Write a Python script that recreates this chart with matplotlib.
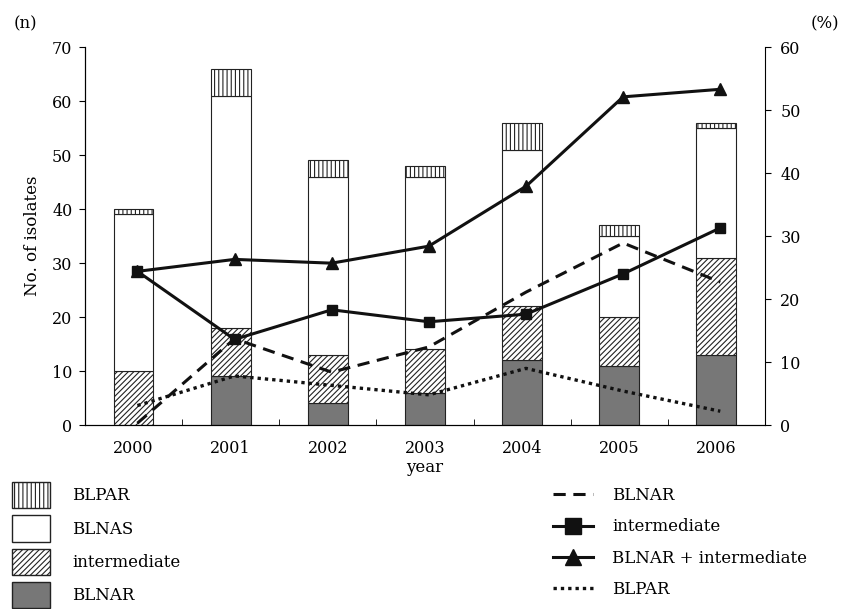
import numpy as np
from matplotlib import pyplot as plt
from matplotlib.patches import Patch
from matplotlib.lines import Line2D

plt.rcParams['font.family'] = ['DejaVu Serif']
plt.rcParams['hatch.linewidth'] = 0.8

# numero de isolados (barras empilhadas)
years = ['2000', '2001', '2002', '2003', '2004', '2005', '2006']
blnar = [0, 9, 4, 6, 12, 11, 13]
intermediate = [10, 9, 9, 8, 10, 9, 18]
blnas = [29, 43, 33, 32, 29, 15, 24]
blpar = [1, 5, 3, 2, 5, 2, 1]

# porcentagens (eixo da direita)
pct_blnar = [0.3, 13.7, 8.4, 12.4, 21.1, 28.9, 22.7]
pct_inter = [24.4, 13.6, 18.3, 16.4, 17.6, 24.0, 31.3]
pct_both = [24.4, 26.3, 25.7, 28.4, 37.9, 52.1, 53.3]
pct_blpar = [3.1, 7.8, 6.3, 4.8, 9.0, 5.4, 2.2]

x = np.arange(len(years))
w = 0.41

fig = plt.figure(figsize=(8.41, 6.09), dpi=100)
ax = fig.add_axes([0.101, 0.302, 0.8086, 0.6207])

b1 = np.array(blnar)
b2 = b1 + np.array(intermediate)
b3 = b2 + np.array(blnas)
ax.bar(x, blnar, w, color='#777777', edgecolor='#222222', lw=0.8)
ax.bar(x, intermediate, w, bottom=b1, color='white', edgecolor='#222222', hatch='//////', lw=0.8)
ax.bar(x, blnas, w, bottom=b2, color='white', edgecolor='#222222', lw=0.8)
ax.bar(x, blpar, w, bottom=b3, color='white', edgecolor='#222222', hatch='||||', lw=0.8)

ax.set_xlim(-0.5, 6.5)
ax.set_ylim(0, 70)
ax.set_yticks(range(0, 71, 10))
ax.set_xticks(x)
ax.set_xticklabels(years)
ax.set_xticks(np.arange(0.5, 6.5, 1), minor=True)
ax.tick_params(axis='x', which='major', length=0, pad=11, labelsize=11.5)
ax.tick_params(axis='x', which='minor', length=4, direction='in')
ax.tick_params(axis='y', length=4, direction='out', labelsize=11.5, pad=5)
ax.spines['top'].set_visible(False)
ax.spines['right'].set_visible(False)
ax.set_ylabel('No. of isolates', fontsize=12, labelpad=8)
ax.set_xlabel('year', fontsize=12, labelpad=1)

ax2 = ax.twinx()
ax2.set_ylim(0, 60)
ax2.set_yticks(range(0, 61, 10))
ax2.tick_params(axis='y', length=4, direction='out', labelsize=11.5, pad=7)
ax2.spines['top'].set_visible(False)

xl = x + 0.04
ax2.plot(xl, pct_blnar, color='#111111', lw=2.2, ls=(0, (4, 2.5)))
ax2.plot(xl, pct_inter, color='#111111', lw=2.2, marker='s', ms=7)
ax2.plot(xl, pct_both, color='#111111', lw=2.2, marker='^', ms=8)
ax2.plot(xl, pct_blpar, color='#111111', lw=2.4, ls=(0, (1, 1.2)))

fig.text(0.016, 0.96, '(n)', fontsize=12, va='center')
fig.text(0.964, 0.96, '(%)', fontsize=12, va='center')

h1 = [Patch(facecolor='white', edgecolor='#222222', hatch='||||'),
      Patch(facecolor='white', edgecolor='#222222'),
      Patch(facecolor='white', edgecolor='#222222', hatch='//////'),
      Patch(facecolor='#777777', edgecolor='#222222')]
fig.legend(h1, ['BLPAR', 'BLNAS', 'intermediate', 'BLNAR'], loc='upper left',
           bbox_to_anchor=(0.0143, 0.2085), frameon=False, fontsize=12,
           borderpad=0, borderaxespad=0,
           handlelength=2.3, handleheight=2.05, labelspacing=0.42, handletextpad=1.3)

h2 = [Line2D([], [], color='#111111', lw=2.2, ls=(0, (4, 2.5))),
      Line2D([], [], color='#111111', lw=2.2, marker='s', ms=12),
      Line2D([], [], color='#111111', lw=2.2, marker='^', ms=12),
      Line2D([], [], color='#111111', lw=2.4, ls=(0, (1, 1.2)))]
fig.legend(h2, ['BLNAR', 'intermediate', 'BLNAR + intermediate', 'BLPAR'], loc='upper left',
           bbox_to_anchor=(0.6576, 0.200), frameon=False, fontsize=12,
           borderpad=0, borderaxespad=0,
           handlelength=2.4, labelspacing=0.85, handletextpad=1.15)

fig.savefig('out.png', dpi=100)
